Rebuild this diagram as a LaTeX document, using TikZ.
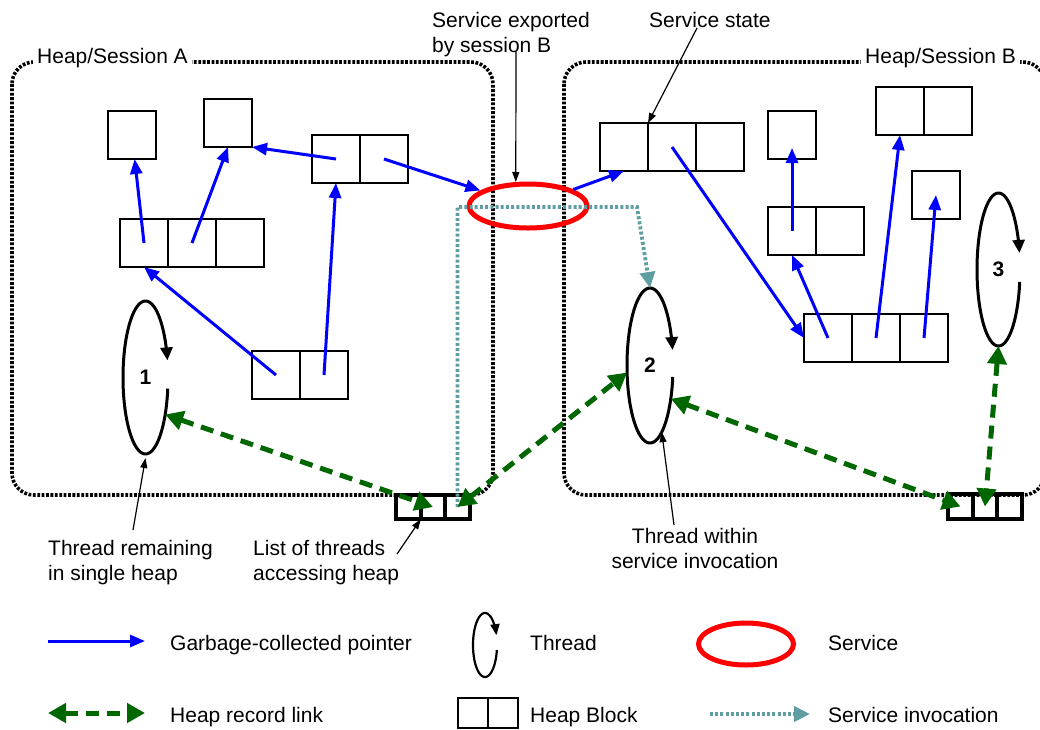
\documentclass[tikz,border=0pt]{standalone}
\usepackage{fontspec}
\setmainfont{Liberation Sans}
\usetikzlibrary{arrows.meta,shapes.geometric,calc}

\definecolor{gcblue}{RGB}{0,0,255}
\definecolor{recgreen}{RGB}{0,102,0}
\definecolor{invteal}{RGB}{95,158,160}
\definecolor{svcred}{RGB}{255,0,0}

% open elliptical loop with an arrow: [style]{cx}{cy}{rx}{ry}{start}{end}
\newcommand\threadloop[7][]{%
  \draw[threadline,#1] plot[domain=#6:#7, samples=90, smooth]
    ({#2+#4*cos(\x)},{#3+#5*sin(\x)});}

\begin{document}
\begin{tikzpicture}[x=1pt,y=-1pt,
  every node/.style={font=\fontsize{21}{25}\selectfont},
  txt/.style={inner sep=0pt},
  cell/.style={draw=black, line width=1.6pt, minimum width=48pt, minimum height=48pt,
    inner sep=0pt, outer sep=0pt},
  lcell/.style={draw=black, line width=3.8pt, minimum width=24.5pt, minimum height=24.5pt,
    inner sep=0pt, outer sep=0pt},
  heap/.style={line width=3.6pt, dash pattern=on 2.8pt off 1.6pt, rounded corners=22pt},
  heaplabel/.style={fill=white, inner xsep=4pt, inner ysep=1pt, anchor=base west},
  gcptr/.style={draw=gcblue, line width=3pt, -{Triangle[length=15pt,width=12pt]}},
  reclink/.style={draw=recgreen, line width=5pt, dash pattern=on 13pt off 8pt,
    {Triangle[length=18pt,width=19pt]}-{Triangle[length=18pt,width=19pt]}},
  invoke/.style={draw=invteal, line width=3.8pt, dash pattern=on 3pt off 2.2pt,
    -{Triangle[length=16pt,width=15pt]}},
  svcring/.style={ellipse, draw=svcred, line width=5pt, inner sep=0pt},
  threadline/.style={line width=3pt, -{Triangle[length=13pt,width=12pt]}},
  note/.style={line width=1.2pt, -{Triangle[length=10pt,width=7pt]}},
  thread/.style={ellipse, inner sep=0pt, outer sep=0pt,
    font=\fontsize{21}{25}\selectfont\bfseries},
]
\useasboundingbox (0,0) rectangle (1040,729);

% ---------- heaps ----------
\draw[heap] (12,62) rectangle (493,495);
\node[heaplabel] (labA) at (33,63) {Heap/Session A};
\draw[heap] (564,62) rectangle (1045,495);
\node[heaplabel] (labB) at (861,63) {Heap/Session B};

% ---------- heap blocks of session A ----------
\node[cell] (a1)  at (132,135) {};
\node[cell] (a2)  at (228,123) {};
\node[cell] (a3a) at (336,159) {};
\node[cell] (a3b) at (384,159) {};
\node[cell] (a4a) at (144,243) {};
\node[cell] (a4b) at (192,243) {};
\node[cell] (a4c) at (240,243) {};
\node[cell] (a5a) at (276,375) {};
\node[cell] (a5b) at (324,375) {};

% ---------- heap blocks of session B ----------
\node[cell] (sa)  at (624,147) {};
\node[cell] (sb)  at (672,147) {};
\node[cell] (sc)  at (720,147) {};
\node[cell] (b1)  at (792,135) {};
\node[cell] (b2a) at (900,111) {};
\node[cell] (b2b) at (948,111) {};
\node[cell] (b3)  at (936,195) {};
\node[cell] (b4a) at (792,231) {};
\node[cell] (b4b) at (840,231) {};
\node[cell] (b5a) at (828,338) {};
\node[cell] (b5b) at (876,338) {};
\node[cell] (b5c) at (924,338) {};

% ---------- thread lists ----------
\node[lcell] (la1) at (408.5,507) {};
\node[lcell] (la2) at (433,507) {};
\node[lcell] (la3) at (457.5,507) {};
\node[lcell] (lb1) at (960.5,506.5) {};
\node[lcell] (lb2) at (985,506.5) {};
\node[lcell] (lb3) at (1009.5,506.5) {};

% ---------- service ----------
\node[svcring, minimum width=118pt, minimum height=44pt] (svc) at (528,206) {};

% ---------- threads ----------
\node[thread, minimum width=45pt, minimum height=153pt] (t1) at (145.5,377.5) {1};
\node[thread, minimum width=46pt, minimum height=155pt] (t2) at (650,365.5) {2};
\node[thread, minimum width=43pt, minimum height=153pt] (t3) at (998.5,269.5) {3};
\threadloop{145.5}{377.5}{22.5}{76.5}{8.3}{347.1}
\threadloop{650}{365.5}{23}{77.5}{8.5}{348.5}
\threadloop{998.5}{269.5}{21.5}{76.5}{9.4}{347.5}

% ---------- service invocation ----------
\coordinate (turn) at (637,207);
\draw[invoke] (la3.center) |- (turn) -- (t2.north);

% ---------- garbage-collected pointers ----------
\draw[gcptr] (a4a.center) -- (a1);
\draw[gcptr] (a4b.center) -- (a2.south);
\draw[gcptr] (a3a.center) -- (a2.south east);
\draw[gcptr] (a3b.center) -- (svc);
\draw[gcptr] (a5b.center) -- (a3a.south);
\draw[gcptr] (a5a.center) -- (a4a.south);
\draw[gcptr] (svc) -- (sa.south);
\draw[gcptr] (sb.center) -- (b5a.west);
\draw[gcptr] (b4a.center) -- ([yshift=-13pt]b1.center);
\draw[gcptr] (b5a.center) -- (b4a.south);
\draw[gcptr] (b5b.center) -- (b2a.south);
\draw[gcptr] (b5c.center) -- (b3.center);

% ---------- heap record links ----------
\draw[reclink] (t1.-62) -- (la2.center);
\draw[reclink] (la3.center) -- (t2.197);
\draw[reclink] (t2.-58) -- (lb1.center);
\draw[reclink] (t3.south) -- (lb2.center);

% ---------- annotations ----------
\node[txt, anchor=north west, align=left] (lexp) at (432,11.8) {Service exported\\by session B};
\coordinate (expfoot) at (516,51);
\draw[note] (expfoot) -- (svc.117);

\node[txt, anchor=base west] (lstate) at (649,27) {Service state};
\coordinate (statefoot) at (697,28);
\draw[note] (statefoot) -- (sb.north west);

\node[txt, anchor=north west, align=left] (lrem) at (48,539.8) {Thread remaining\\in single heap};
\coordinate (remfoot) at (133,530);
\draw[note] (remfoot) -- ([yshift=-4pt]t1.south);

\node[txt, anchor=north west, align=left] (llist) at (253,539.8) {List of threads\\accessing heap};
\coordinate (listfoot) at (397,554);
\draw[note] (listfoot) -- (la2.south west);

\node[txt, anchor=north, align=center] (lwithin) at (695,527.8) {Thread within\\service invocation};
\coordinate (withinfoot) at (674,525);
\draw[note] (withinfoot) -- (t2.-80);

% ---------- legend ----------
\coordinate (gcA) at (48,641);
\coordinate (gcB) at (145,641);
\draw[gcptr] (gcA) -- (gcB);
\node[txt, anchor=base west] (lgc) at (170,650) {Garbage-collected pointer};

\threadloop[line width=2.2pt, -{Triangle[length=11pt,width=9pt]}]{485}{645}{12}{32}{9}{342}
\node[txt, anchor=base west] (lthr) at (530,650) {Thread};

\node[svcring, minimum width=95pt, minimum height=42pt] (lsvc) at (746,644) {};
\node[txt, anchor=base west] (lsvct) at (828,650) {Service};

\coordinate (rlA) at (48,713);
\coordinate (rlB) at (145,713);
\draw[reclink] (rlA) -- (rlB);
\node[txt, anchor=base west] (lrec) at (170,722) {Heap record link};

\node[cell, minimum width=30pt, minimum height=30pt] (hb1) at (473,713) {};
\node[cell, minimum width=30pt, minimum height=30pt] (hb2) at (503,713) {};
\node[txt, anchor=base west] (lhb) at (530,722) {Heap Block};

\coordinate (ivA) at (710,714);
\coordinate (ivB) at (810,714);
\draw[invoke] (ivA) -- (ivB);
\node[txt, anchor=base west] (linv) at (828,722) {Service invocation};
\end{tikzpicture}
\end{document}
